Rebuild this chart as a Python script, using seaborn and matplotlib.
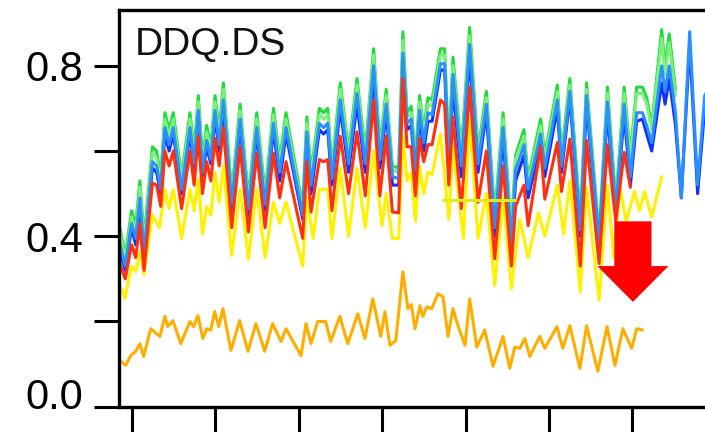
import numpy as np
import pandas as pd
import matplotlib
matplotlib.use("Agg")
import matplotlib.pyplot as plt
import seaborn as sns
from matplotlib.patches import FancyArrow
from matplotlib.transforms import ScaledTranslation

nan = float("nan")

# shared vertices for the green / blue / red traces
x_main = [-3, -1.5, 0, 1, 2, 3, 5, 6, 7, 8, 9, 10, 12, 14, 15, 16, 17, 18, 19, 20,
          21, 22, 24, 26, 28, 30, 32, 34, 35.5, 37, 41, 42, 43, 45, 46, 47, 48, 50, 52, 54,
          56, 58, 59.5, 61, 62.5, 64, 65, 66, 67, 68, 69, 70, 71, 72, 74, 75, 76, 77, 79, 81,
          83, 85, 87, 89, 91, 92, 94, 95, 98, 99, 102, 103, 105, 107.5, 109, 112, 114, 116, 118, 119.5,
          121, 122.4, 123.4, 124.6, 127, 127.8, 128.8, 130.3, 131.7, 133.7, 135.6, 137.3, 140]

green = [.43, .355, .46, .425, .53, .395, .61, .60, .54, .69, .65, .69, .54, .69, .60, .73, .58, .66, .61, .73,
         .65, .76, .50, .71, .49, .69, .50, .70, .58, .69, .47, .68, .55, .70, .69, .70, .56, .76, .60, .77,
         .60, .84, .61, .745, .565, .56, .88, .69, .705, .58, .73, .65, .725, .72, .84, .84, .60, .82, .60, .89,
         .60, .74, .45, .69, .41, .59, .65, .535, .675, .59, .755, .59, .77, .44, .76, .40, .75, .48, .75, .59,
         .75, .75, .725, .66, .885, .795, .875, .745, nan, nan, nan, nan, nan]

light_green = [.42, .345, .445, .41, .515, .385, .595, .585, .53, .675, .635, .675, .53, .675, .585, .715, .57, .645, .60, .715,
               .635, .745, .49, .695, .48, .675, .49, .685, .57, .675, .46, .665, .54, .685, .675, .685, .55, .745, .59, .755,
               .59, .825, .60, .73, .555, .55, .86, .68, .69, .57, .715, .64, .71, .705, .825, .825, .59, .80, .59, .87,
               .59, .725, .44, .675, .40, .58, .635, .525, .66, .58, .74, .58, .755, .43, .745, .39, .735, .47, .735, .58,
               .735, .735, .71, .65, .865, .78, .855, .73, nan, nan, nan, nan, nan]

light_blue = [.39, .33, .43, .395, .49, .36, .575, .565, .51, .655, .615, .655, .51, .655, .57, .695, .55, .625, .58, .695,
              .615, .72, .475, .675, .465, .655, .475, .665, .55, .655, .45, .645, .52, .665, .655, .665, .535, .72, .57, .735,
              .57, .80, .58, .71, .54, .535, .83, .665, .675, .555, .695, .62, .69, .685, .805, .805, .57, .78, .565, .85,
              .57, .71, .42, .655, .385, .555, .615, .51, .64, .56, .72, .565, .74, .415, .73, .385, .715, .46, .71, .54,
              .69, .69, .66, .62, .80, .74, .80, .69, .49, .88, .52, .73, .78]

blue = [.37, .32, .42, .38, .47, .35, .56, .55, .50, .64, .60, .64, .50, .64, .56, .68, .54, .61, .57, .68,
        .60, .70, .46, .66, .45, .64, .46, .65, .53, .64, .44, .63, .50, .65, .64, .65, .52, .70, .55, .71,
        .55, .775, .56, .69, .52, .52, .80, .65, .66, .54, .68, .60, .67, .67, .79, .79, .55, .75, .54, .82,
        .55, .69, .40, .63, .37, .53, .59, .49, .62, .54, .70, .55, .725, .40, .71, .38, .69, .45, .685, .52,
        .67, .675, .64, .60, .76, .71, .77, .66, .49, .85, .50, .70, .76]

red = [.34, .30, .38, .35, .43, .32, .525, .52, .47, .60, .565, .60, .465, .60, .52, .635, .50, .575, .53, .63,
       .565, .655, .42, .61, .41, .595, .42, .595, .49, .575, .395, .575, .457, .58, .575, .58, .46, .635, .50, .645,
       .495, .72, .495, .635, .457, .455, .77, .61, .61, .495, .63, .575, .615, .615, .72, .71, .52, .68, .465, .75,
       .48, .60, .347, .565, .33, .47, .52, .425, .61, .487, .62, .505, .628, .33, .625, .336, .615, .435, .597, .515,
       nan, nan, nan, nan, nan, nan, nan, nan, nan, nan, nan, nan, nan]

x_yellow = [-3, -1.6, 0, 1, 2, 3, 5, 6.7, 8, 9, 10, 12, 14, 15, 16, 17, 18, 19, 20, 21,
            22, 24, 26, 28, 30, 32, 34, 35.5, 37, 41, 42, 43.5, 45, 47, 48, 50, 52, 54, 56, 58,
            60, 61, 62.5, 64, 65, 66, 67, 68, 69, 70, 71, 72, 74, 76, 77, 79.5, 81, 83, 85, 87,
            89, 91, 93, 95, 97.5, 99, 102, 103.5, 105, 107.5, 109, 112, 114, 115.5, 117, 118.5, 120.5, 121.7, 122.9, 124.6,
            127]
yellow = [.29, .254, .33, .317, .363, .31, .45, .42, .51, .465, .51, .395, .51, .46, .535, .405, .47, .45, .55, .48,
          .565, .355, .51, .347, .51, .35, .48, .43, .48, .33, .49, .395, .51, .51, .395, .56, .40, .56, .42, .60,
          .425, .50, .395, .395, .635, .53, .55, .435, .565, .50, .55, .545, .64, .44, .61, .395, .675, .395, .50, .285,
          .49, .277, .44, .35, .455, .40, .52, .405, .53, .27, .515, .25, .52, .35, .515, .435, .505, .46, .505, .445,
          .54]

x_orange = [-3, -1.4, -0.2, 1.0, 2.0, 2.9, 4.6, 6.8, 8.0, 8.7, 9.9, 11.8, 14.0, 14.9, 15.9, 17.1, 18.0, 19.0, 19.9, 20.9,
            21.9, 23.8, 25.9, 27.9, 29.8, 31.9, 33.8, 35.8, 37.0, 40.6, 41.8, 43.0, 44.6, 46.5, 47.7, 49.9, 51.8, 54.2, 55.9, 57.8,
            59.7, 60.7, 61.9, 63.3, 65.0, 66.2, 67.0, 67.9, 69.1, 69.8, 70.7, 71.9, 73.4, 74.6, 75.8, 77.0, 78.2, 79.9, 81.0, 82.7,
            84.6, 86.6, 89.0, 90.6, 91.8, 93.0, 94.2, 95.4, 97.8, 99.0, 101.9, 103.3, 105.0, 107.4, 109.0, 111.7, 113.9, 115.8, 117.7, 119.8,
            121.0, 122.4]
orange = [.11, .097, .12, .13, .148, .118, .183, .165, .212, .188, .202, .148, .20, .188, .214, .16, .183, .18, .223, .188,
          .23, .132, .202, .13, .195, .13, .195, .153, .183, .12, .195, .148, .20, .20, .153, .212, .148, .218, .16, .253,
          .165, .223, .144, .155, .317, .23, .24, .183, .237, .212, .234, .23, .265, .258, .165, .23, .19, .144, .253, .14,
          .18, .095, .165, .09, .14, .137, .16, .118, .165, .137, .188, .137, .19, .09, .19, .083, .188, .097, .183, .137,
          .183, .18]

x_mean = [74.6, 91.8]
mean_level = [0.485, 0.485]

y_ticks = [0.0, 0.2, 0.4, 0.6, 0.8]
y_tick_labels = ["0.0", "", "0.4", "", "0.8"]
x_ticks = [0, 20, 40, 60, 80, 100, 120, 140]

sns.set_style("ticks")
plt.rcParams["font.family"] = ["Liberation Sans", "DejaVu Sans"]

fig = plt.figure(figsize=(7.05, 4.32), dpi=100)
ax = fig.add_axes([119 / 705, 25.3 / 432, 0.906, 396.7 / 432])


def draw(x, y, color, lw=2.2, z=2):
    df = pd.DataFrame({"x": x, "y": y}).dropna()
    sns.lineplot(data=df, x="x", y="y", color=color, lw=lw, ax=ax,
                 sort=False, estimator=None, zorder=z)


draw(x_orange, orange, "#ffae00")
draw(x_yellow, yellow, "#fff200")
draw(x_main, green, "#1fdc3c")
draw(x_main, light_green, "#7cf07c")
draw(x_main, blue, "#1030ff")
draw(x_main, light_blue, "#2a90ff")
draw(x_main, red, "#ff3010")
draw(x_mean, mean_level, "#d8ec20", lw=2.2, z=3)

ax.add_patch(FancyArrow(120.1, 0.435, 0, -0.189, width=8.9, head_width=17,
                        head_length=0.084, length_includes_head=True,
                        color="#ff0000", lw=0, zorder=5))

ax.set_xlim(-3, 150)
ax.set_ylim(0, 0.931)
ax.set_xticks(x_ticks)
ax.set_xticklabels([""] * len(x_ticks))
ax.set_yticks(y_ticks)
ax.set_yticklabels(y_tick_labels)
ax.set_xlabel("")
ax.set_ylabel("")

for side in ["left", "top", "bottom"]:
    ax.spines[side].set_linewidth(2.4)
    ax.spines[side].set_color("black")
ax.spines["right"].set_visible(False)
ax.tick_params(direction="out", length=18, width=2.2, pad=8, labelsize=30, colors="black")

ax.text(0.025, 0.8866, "DDQ.DS", transform=ax.transAxes, fontsize=28,
        va="baseline", ha="left", color="#111111")

lab0 = ax.get_yticklabels()[0]
lab0.set_transform(lab0.get_transform() + ScaledTranslation(0, 13 / 100, fig.dpi_scale_trans))

fig.savefig("out.png", dpi=100)
